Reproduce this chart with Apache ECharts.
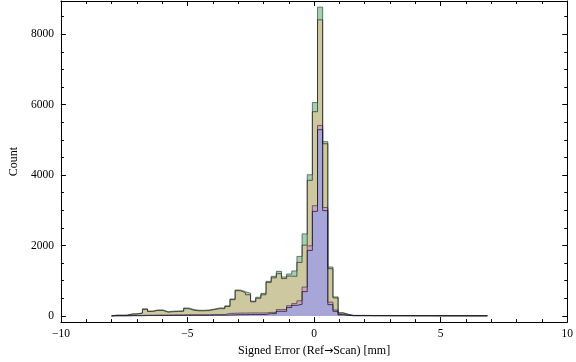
<!DOCTYPE html>
<html><head><meta charset="utf-8">
<script src="https://cdn.jsdelivr.net/npm/echarts@6/dist/echarts.min.js"></script>
<style>html,body{margin:0;padding:0;background:#fff}#c{width:576px;height:362px}</style>
</head><body><div id="c"></div>
<script>
// Histogram bins: left edge of first bin and bin width (x in mm)
const binStart = -8.0;
const binWidth = 0.2034;

// Counts per bin (73 bins), one array per dataset
const greenCounts = [20,20,20,57,60,85,200,140,170,170,120,135,140,145,225,180,160,160,170,195,227,227,285,482,735,690,640,420,530,640,982,1124,1265,1106,1190,1277,1690,2330,4010,6060,8770,4950,1390,540,90,45,
  15,15,14,14,12,12,10,10,10,10,9,9,8,8,8,8,7,7,7,6,6,6,6,5,5,5,5];
const oliveCounts = [18,18,18,50,55,75,185,125,155,155,105,120,125,130,205,160,145,145,150,180,205,205,265,460,715,660,600,400,500,600,950,1080,1200,1060,1130,1124,1520,2010,3850,5800,8410,4890,1340,510,80,40,
  13,13,12,12,10,10,9,9,9,9,8,8,7,7,7,7,6,6,6,5,5,5,5,4,4,4,4];
const pinkCounts = [5,5,5,10,15,15,20,20,25,25,25,30,30,30,35,35,35,35,35,40,40,40,70,75,80,80,85,85,85,85,100,100,180,180,290,350,430,820,1990,3130,5410,3080,390,170,40,20,
  8,8,7,7,6,6,5,5,5,5,4,4,4,4,4,4,3,3,3,3,3,3,3,2,2,2,2];
const blueCounts = [3,3,3,5,5,5,10,10,10,10,10,12,12,12,15,15,15,15,15,20,20,20,25,30,35,35,40,40,40,40,65,65,130,130,240,300,330,690,1860,2970,5290,2990,320,130,30,15,
  5,5,5,5,4,4,4,4,3,3,3,3,3,3,3,3,2,2,2,2,2,2,2,1,1,1,1];

// Axis ticks
const xMin = -10, xMax = 10, xInterval = 5;
const yMin = -176, yMax = 8945;
const yMajorTicks = [0,2000,4000,6000,8000];
const yMinorTicks = [500,1000,1500,2500,3000,3500,4500,5000,5500,6500,7000,7500,8500];

const font = 'Liberation Serif, Times New Roman, serif';

function stepData(counts){
  const pts = [[binStart, 0]];
  counts.forEach((c, i) => pts.push([binStart + i * binWidth, c]));
  const end = binStart + counts.length * binWidth;
  pts.push([end, counts[counts.length - 1]]);
  pts.push([end, 0]);
  return pts;
}
function histSeries(counts, fill, edge){
  return {
    type: 'line', step: 'end', symbol: 'none', silent: true,
    data: stepData(counts),
    lineStyle: {color: edge, width: 1},
    areaStyle: {color: fill, opacity: 1},
    animation: false
  };
}
const axisLineStyle = {color: '#000', width: 1};
function xAx(pos, labels){
  return {
    type: 'value', min: xMin, max: xMax, interval: xInterval, position: pos,
    axisLine: {show: true, onZero: false, lineStyle: axisLineStyle},
    axisTick: {show: true, inside: true, length: 5, lineStyle: axisLineStyle},
    minorTick: {show: true, splitNumber: 5, length: 3, lineStyle: axisLineStyle},
    splitLine: {show: false}, minorSplitLine: {show: false},
    axisLabel: {show: labels, margin: 6, color: '#000', fontFamily: font, fontSize: 11.5,
      formatter: v => v < 0 ? '\u2212' + Math.abs(v) : String(v)},
    name: labels ? 'Signed Error (Ref{ar|\u2192}Scan) [mm]' : '',
    nameLocation: 'middle', nameGap: 22,
    nameTextStyle: {color: '#000', fontFamily: font, fontSize: 12,
      rich: {ar: {fontFamily: 'DejaVu Sans', fontSize: 11, color: '#000'}}}
  };
}
function yAx(pos, ticks, len, labels, line, name){
  return {
    type: 'value', min: yMin, max: yMax, position: pos,
    axisLine: {show: line, onZero: false, lineStyle: axisLineStyle},
    axisTick: {show: true, inside: true, length: len, customValues: ticks, lineStyle: axisLineStyle},
    splitLine: {show: false},
    axisLabel: {show: labels, customValues: ticks, margin: 7, color: '#000', fontFamily: font, fontSize: 11.5,
      formatter: v => String(v)},
    name: name || '', nameLocation: 'middle', nameRotate: 90, nameGap: 40,
    nameTextStyle: {color: '#000', fontFamily: font, fontSize: 12}
  };
}

const chart = echarts.init(document.getElementById('c'), null, {renderer: 'canvas'});
chart.setOption({
  animation: false,
  backgroundColor: '#fff',
  grid: {left: 48, right: 8, top: 1, height: 321.5, containLabel: false},
  xAxis: [xAx('bottom', true), xAx('top', false)],
  yAxis: [
    yAx('left', yMajorTicks, 5, true, true, 'Count'),
    yAx('left', yMinorTicks, 3, false, false),
    yAx('right', yMajorTicks, 5, false, true),
    yAx('right', yMinorTicks, 3, false, false)
  ],
  series: [
    histSeries(greenCounts, '#a2d0b3', 'rgba(30,50,35,0.6)'),
    histSeries(oliveCounts, '#cdc8a0', 'rgba(30,30,20,0.65)'),
    histSeries(pinkCounts, '#d0a2c2', 'rgba(50,30,45,0.6)'),
    histSeries(blueCounts, '#a8a6d8', 'rgba(20,20,40,0.75)')
  ]
});
</script>
</body></html>
